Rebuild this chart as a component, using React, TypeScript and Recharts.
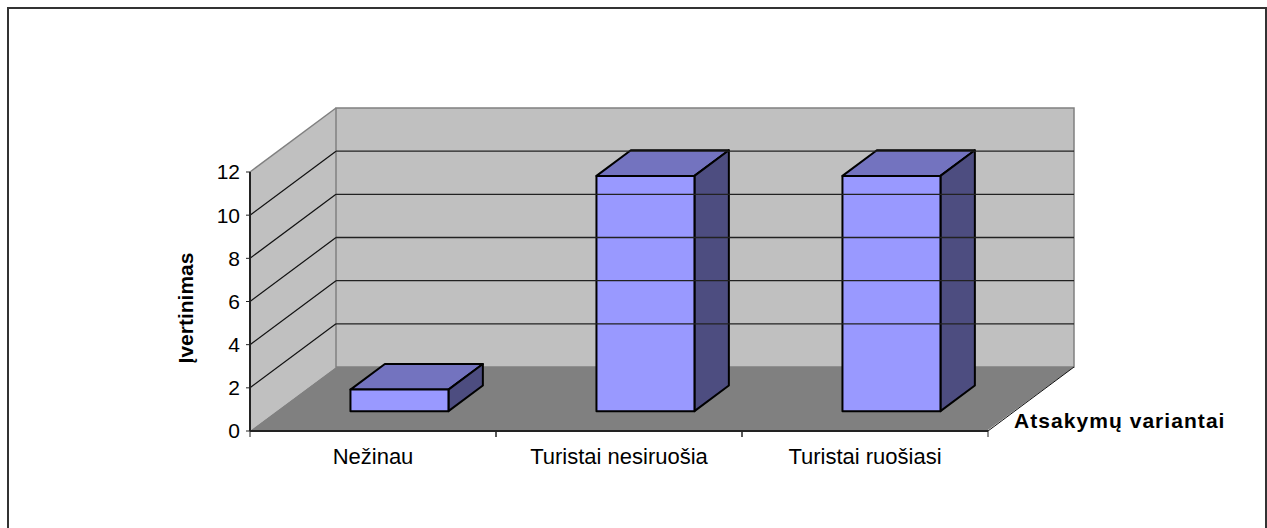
import React from 'react';
import { Bar, BarChart, Label, ReferenceArea, ReferenceLine, XAxis, YAxis } from 'recharts';

const categories = ['Nežinau', 'Turistai nesiruošia', 'Turistai ruošiasi'];
const values = [1, 10.9, 10.9];
const yTicks = [0, 2, 4, 6, 8, 10, 12];
const gridValues = [2, 4, 6, 8, 10];

const rows = categories.map((name, i) => ({ name, value: values[i] }));

const FONT = '"Liberation Sans", Arial, sans-serif';
const WIDTH = 1267;
const HEIGHT = 528;
const MARGIN = { top: 172, right: 279, bottom: 67, left: 190 };
const Y_AXIS_W = 60;
const BAND = (WIDTH - MARGIN.left - Y_AXIS_W - MARGIN.right) / categories.length;

// oblique projection of the chart's depth axis
const DEPTH_X = 86;
const DEPTH_Y = -64;
const BAR_SHIFT = 0.31;
const BAR_DEPTH = 0.4;

const pts = (list: number[][]) => list.map((p) => p.join(',')).join(' ');

// side wall, back wall and floor, sized from the plot rectangle
function Walls({ x, y, width, height }: any) {
  const b = y + height;
  const r = x + width;
  const bx = x + DEPTH_X;
  const by = y + DEPTH_Y;
  const wallEdge = { stroke: '#808080', strokeWidth: 1.5 };
  return (
    <g>
      {/* kept just inside the axis lines so they stay dark */}
      <polygon points={pts([[x + 1, y], [bx, by], [bx, b + DEPTH_Y], [x + 1, b - 1]])} fill="#c0c0c0" />
      <rect x={bx} y={by} width={width} height={height} fill="#c0c0c0" {...wallEdge} />
      <polygon points={pts([[x + 1, b - 1], [r, b - 1], [r + DEPTH_X, b + DEPTH_Y], [bx, b + DEPTH_Y]])} fill="#808080" />
      <line x1={x} y1={y} x2={bx} y2={by} {...wallEdge} />
      <line x1={r} y1={b} x2={r + DEPTH_X} y2={b + DEPTH_Y} stroke="#111" strokeWidth={1} />
    </g>
  );
}

// one gridline folds from the side wall onto the back wall
function GridLine({ x1, y1, x2, y2 }: any) {
  return (
    <g>
      <line x1={x1} y1={y1} x2={x1 + DEPTH_X} y2={y1 + DEPTH_Y} stroke="#111" strokeWidth={1.2} />
      <line x1={x1 + DEPTH_X} y1={y1 + DEPTH_Y} x2={x2 + DEPTH_X} y2={y2 + DEPTH_Y} stroke="#222" strokeWidth={1.4} />
    </g>
  );
}

function Box({ x, y, width, height }: any) {
  const left = x + DEPTH_X * BAR_SHIFT;
  const top = y + DEPTH_Y * BAR_SHIFT;
  const right = left + width;
  const bottom = top + height;
  const dx = DEPTH_X * BAR_DEPTH;
  const dy = DEPTH_Y * BAR_DEPTH;
  const edge = { stroke: '#000', strokeWidth: 2, strokeLinejoin: 'round' as const };
  return (
    <g>
      <polygon points={pts([[left, top], [left + dx, top + dy], [right + dx, top + dy], [right, top]])} fill="#7373bf" {...edge} />
      <polygon points={pts([[right, top], [right + dx, top + dy], [right + dx, bottom + dy], [right, bottom]])} fill="#4d4d80" {...edge} />
      <rect x={left} y={top} width={width} height={height} fill="#9999ff" {...edge} />
    </g>
  );
}

// category label plus the tick marks on the band edges
function CategoryTick({ x, y, payload }: any) {
  return (
    <g>
      <line x1={x - BAND / 2} y1={y - 8} x2={x - BAND / 2} y2={y - 2} stroke="#222" strokeWidth={1} />
      <line x1={x + BAND / 2} y1={y - 8} x2={x + BAND / 2} y2={y - 2} stroke="#222" strokeWidth={1} />
      <text x={x} y={y + 25} textAnchor="middle" fontFamily={FONT} fontSize={22} fill="#000">
        {payload.value}
      </text>
    </g>
  );
}

export default function App() {
  return (
    <div
      style={{
        position: 'absolute',
        left: 0,
        top: 0,
        width: WIDTH,
        height: HEIGHT,
        overflow: 'hidden',
        background: '#fff',
      }}
    >
      <div
        style={{
          position: 'absolute',
          left: 7,
          top: 7,
          width: WIDTH,
          height: HEIGHT,
          boxSizing: 'border-box',
          borderLeft: '2px solid #333',
          borderTop: '2px solid #333',
        }}
      />
      <div
        style={{
          position: 'absolute',
          right: 0,
          top: 7,
          width: 2,
          height: HEIGHT,
          background: '#333',
        }}
      />
      <div style={{ position: 'absolute', left: 0, top: 0 }}>
        <BarChart width={WIDTH} height={HEIGHT} data={rows} margin={MARGIN} barCategoryGap="30%">
          <ReferenceArea y1={0} y2={12} shape={<Walls />} ifOverflow="visible" />
          {gridValues.map((v) => (
            <ReferenceLine key={v} y={v} shape={<GridLine />} ifOverflow="visible" />
          ))}
          <XAxis
            dataKey="name"
            height={30}
            interval={0}
            tickLine={false}
            axisLine={{ stroke: '#222', strokeWidth: 2 }}
            tick={<CategoryTick />}
          >
            <Label
              content={() => (
                <text x={1014} y={428} fontFamily={FONT} fontSize={21} fontWeight="bold" letterSpacing={1.05} fill="#000">
                  Atsakymų variantai
                </text>
              )}
            />
          </XAxis>
          <YAxis
            width={Y_AXIS_W}
            domain={[0, 12]}
            ticks={yTicks}
            interval={0}
            tickSize={4}
            tickMargin={6}
            axisLine={{ stroke: '#222', strokeWidth: 2 }}
            tickLine={{ stroke: '#222' }}
            tick={{ fontFamily: FONT, fontSize: 21, fill: '#000' }}
          >
            <Label
              content={() => (
                <text
                  transform="translate(193 308) rotate(-90)"
                  textAnchor="middle"
                  fontFamily={FONT}
                  fontSize={21}
                  fontWeight="bold"
                  fill="#000"
                >
                  Įvertinimas
                </text>
              )}
            />
          </YAxis>
          <Bar dataKey="value" isAnimationActive={false} shape={<Box />} />
        </BarChart>
      </div>
    </div>
  );
}
